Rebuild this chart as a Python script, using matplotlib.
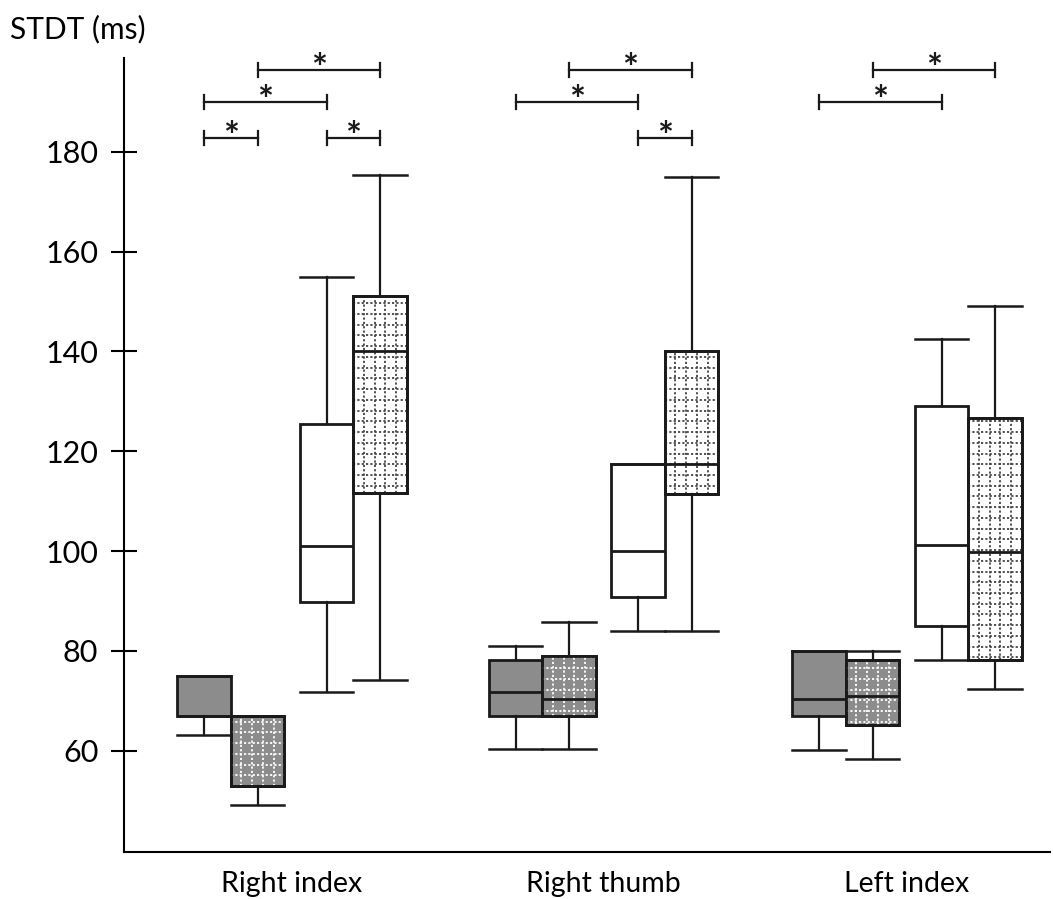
import numpy as np
import matplotlib
matplotlib.use('Agg')
import matplotlib.pyplot as plt
from matplotlib.patches import PathPatch

plt.rcParams['font.family'] = ['Lato', 'DejaVu Sans']

sites = ['Right index', 'Right thumb', 'Left index']

# box stats per site: [whisker low, q1, median, q3, whisker high]
cond_a = [[63.2, 67.0, 67.0, 75.0, 75.0],
          [60.4, 67.0, 71.8, 78.1, 81.0],
          [60.1, 67.0, 70.4, 80.0, 80.0]]
cond_b = [[49.1, 52.9, 52.9, 67.0, 67.0],
          [60.4, 67.0, 70.4, 78.9, 85.8],
          [58.3, 65.2, 71.0, 78.1, 80.0]]
cond_c = [[71.8, 89.8, 101.0, 125.5, 155.0],
          [83.9, 90.7, 100.0, 117.5, 117.5],
          [78.2, 84.9, 101.2, 129.1, 142.5]]
cond_d = [[74.2, 111.7, 140.0, 151.1, 175.4],
          [83.9, 111.5, 117.5, 140.0, 175.0],
          [72.4, 78.2, 99.9, 126.6, 149.2]]
conditions = [cond_a, cond_b, cond_c, cond_d]

# significance brackets: (site, box i, box j, row)
sig_pairs = [(0, 0, 1, 0), (0, 2, 3, 0), (0, 0, 2, 1), (0, 1, 3, 2),
             (1, 2, 3, 0), (1, 0, 2, 1), (1, 1, 3, 2),
             (2, 0, 2, 1), (2, 1, 3, 2)]

# layout (x axis in pixel-like units)
group_x = [292, 603.5, 907]
offsets = [-88, -34.5, 34.5, 88]
box_w = 53.5
row_y = [182.8, 189.9, 196.3]
faces = ['#8c8c8c', '#8c8c8c', 'white', 'white']
grids = [None, 'white', None, '#444444']


def main():
    fig = plt.figure(figsize=(10.53, 8.99), dpi=100)
    ax = fig.add_axes([124 / 1053, 1 - 852 / 899, (1050 - 124) / 1053, (852 - 58) / 899])

    stats, positions, box_face, box_grid = [], [], [], []
    for s in range(len(sites)):
        for c, cond in enumerate(conditions):
            lo, q1, med, q3, hi = cond[s]
            stats.append(dict(whislo=lo, q1=q1, med=med, q3=q3, whishi=hi, fliers=[]))
            positions.append(group_x[s] + offsets[c])
            box_face.append(faces[c])
            box_grid.append(grids[c])

    bp = ax.bxp(stats, positions=positions, widths=box_w, capwidths=box_w,
                patch_artist=True, showfliers=False,
                boxprops=dict(linewidth=2, edgecolor='#1a1a1a'),
                whiskerprops=dict(linewidth=1.6, color='#1a1a1a'),
                capprops=dict(linewidth=1.8, color='#1a1a1a'),
                medianprops=dict(linewidth=2, color='#1a1a1a'))

    yy = np.arange(40, 200, 2.15)
    for box, face, grid, pos, st in zip(bp['boxes'], box_face, box_grid, positions, stats):
        box.set_facecolor(face)
        if grid is None:
            continue
        x0 = pos - box_w / 2
        for k in range(1, 5):
            ln, = ax.plot([x0 + box_w * k / 5] * 2, [st['q1'], st['q3']], color=grid,
                          lw=1.3, ls=(0, (1.2, 1.2)), zorder=2.05)
            ln.set_clip_path(box)
        for y in yy[(yy > st['q1']) & (yy < st['q3'])]:
            ln, = ax.plot([x0, x0 + box_w], [y, y], color=grid,
                          lw=1.3, ls=(0, (1.2, 1.2)), zorder=2.05)
            ln.set_clip_path(box)
        ax.add_patch(PathPatch(box.get_path(), fill=False, lw=2,
                               edgecolor='#1a1a1a', zorder=2.06))

    for s, i, j, r in sig_pairs:
        x1 = group_x[s] + offsets[i]
        x2 = group_x[s] + offsets[j]
        y = row_y[r]
        ax.plot([x1, x2], [y, y], color='#1a1a1a', lw=1.6, clip_on=False)
        for x in (x1, x2):
            ax.plot([x, x], [y - 1.4, y + 1.4], color='#1a1a1a', lw=1.6, clip_on=False)
        ax.text((x1 + x2) / 2, y - 2.2, '*', ha='center', va='baseline',
                fontsize=27, fontweight='bold', color='#1a1a1a')

    ax.set_xlim(124, 1050)
    ax.set_ylim(39.7, 198.8)
    ax.set_yticks(range(60, 181, 20))
    ax.set_xticks(group_x)
    ax.set_xticklabels(sites)
    ax.spines['top'].set_visible(False)
    ax.spines['right'].set_visible(False)
    ax.spines['left'].set_linewidth(1.5)
    ax.spines['bottom'].set_linewidth(1.5)
    ax.tick_params(axis='y', direction='inout', length=19, width=1.5, labelsize=22, pad=9)
    ax.tick_params(axis='x', length=0, labelsize=20.5, pad=14)

    fig.text(10 / 1053, 1 - 29 / 899, 'STDT (ms)', fontsize=21.5, va='center', ha='left')
    fig.savefig('out.png', dpi=100)


if __name__ == "__main__":
    main()
